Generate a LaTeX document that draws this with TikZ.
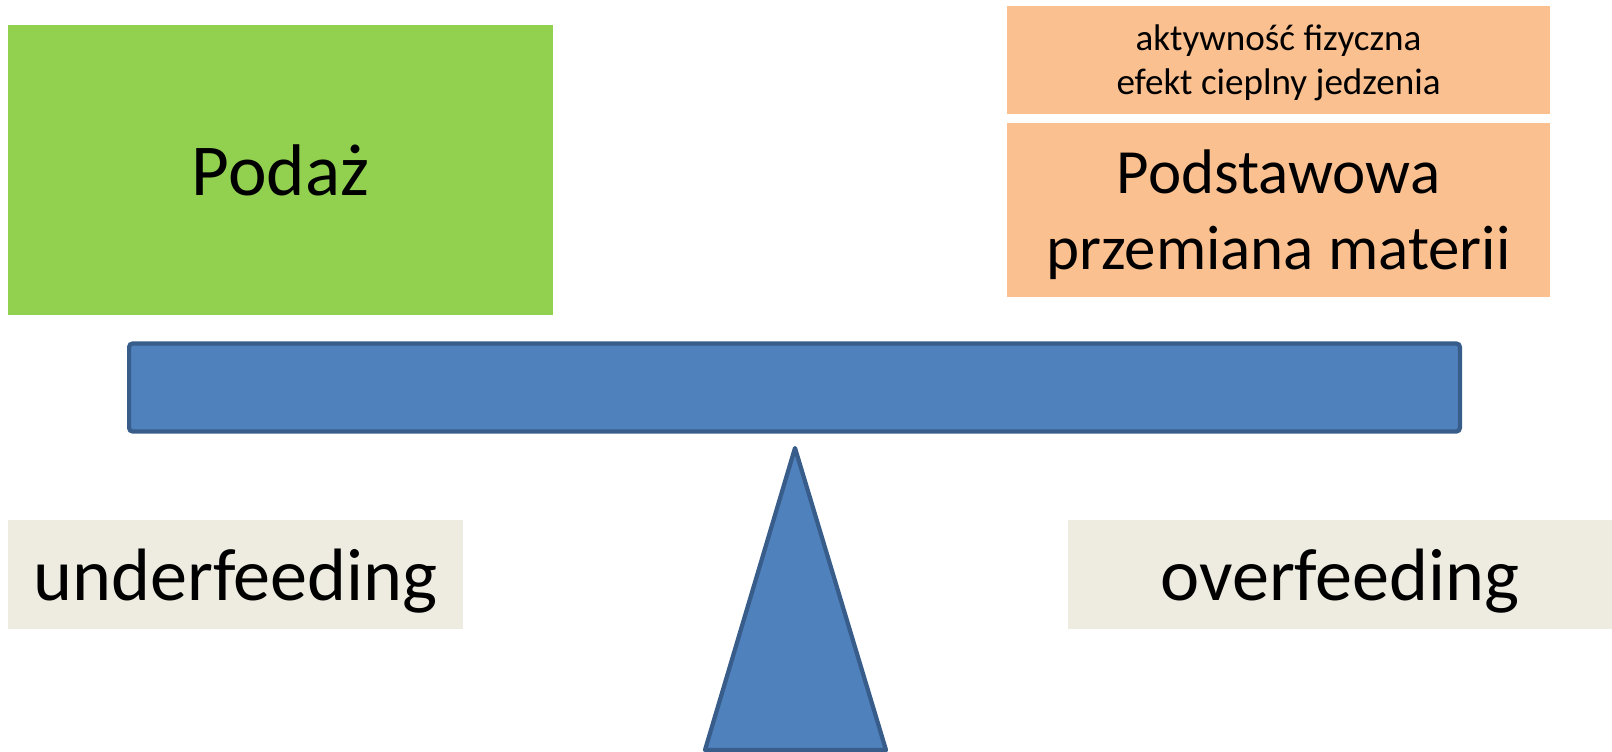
\documentclass[tikz,border=0pt]{standalone}
\usepackage{fontspec}
\setmainfont{Carlito}
\usepackage{tikz}
\definecolor{podazgreen}{HTML}{92D050}
\definecolor{ppmorange}{HTML}{FAC090}
\definecolor{beamblue}{HTML}{4F81BD}
\definecolor{beamedge}{HTML}{385D8A}
\definecolor{sidebeige}{HTML}{EEECE1}

\begin{document}
\begin{tikzpicture}[x=0.01cm, y=-0.01cm,
  box/.style={inner sep=0pt, align=center, text=black},
  bigtext/.style={font=\fontsize{20.8pt}{25pt}\selectfont},
  sidetext/.style={font=\fontsize{21.1pt}{25pt}\selectfont, text depth=0pt}]
\useasboundingbox (0,0) rectangle (1612,751);

\node[box, bigtext, fill=podazgreen, minimum width=5.45cm, minimum height=2.9cm] (podaz) at (280.5,170) {Poda\.z};
\node[box, fill=ppmorange, minimum width=5.43cm, minimum height=1.08cm, text depth=0pt,
  font=\fontsize{10.55pt}{12.5pt}\selectfont] (extra) at (1278.5,60) {aktywno\'s\'c fizyczna\\efekt cieplny jedzenia};
\node[box, fill=ppmorange, minimum width=5.43cm, minimum height=1.74cm, text depth=0pt,
  font=\fontsize{17.9pt}{21.6pt}\selectfont] (ppm) at (1278.5,210) {Podstawowa\\przemiana materii};

\node[draw=beamedge, fill=beamblue, line width=1.2pt, rounded corners=1pt,
  minimum width=13.3cm, minimum height=0.88cm] (beam) at (794.5,387.5) {};

\coordinate (apex) at (795,448);
\coordinate (baseL) at (705,750);
\coordinate (baseR) at (886,750);
\draw[draw=beamedge, fill=beamblue, line width=1.2pt, line join=round] (apex) -- (baseR) -- (baseL) -- cycle;

\node[box, sidetext, fill=sidebeige, minimum width=4.55cm, minimum height=1.09cm] (under) at (235.5,574.5) {underfeeding};
\node[box, sidetext, fill=sidebeige, minimum width=5.44cm, minimum height=1.09cm] (over) at (1340,574.5) {overfeeding};
\end{tikzpicture}
\end{document}
